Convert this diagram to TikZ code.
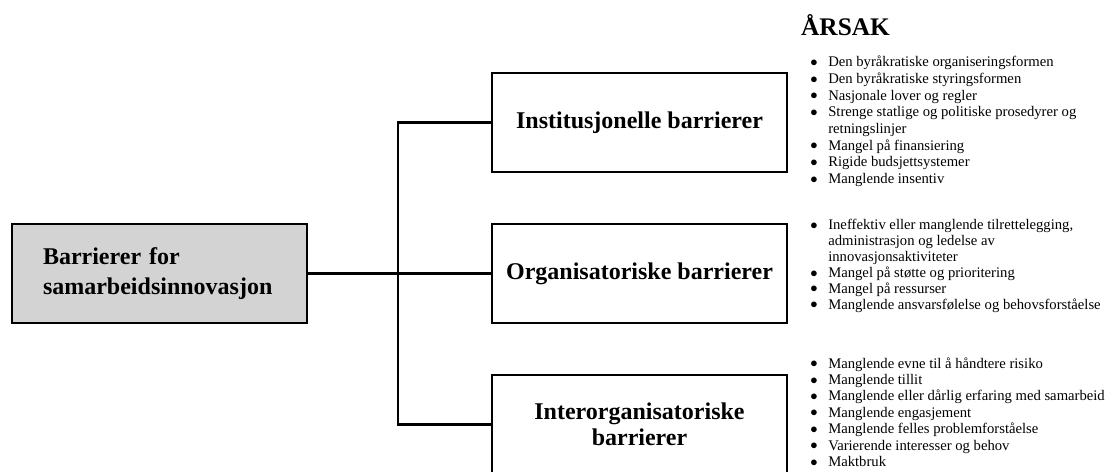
\documentclass[tikz,border=0pt]{standalone}
\usepackage{fontspec}
\setmainfont{Liberation Serif}
\usetikzlibrary{positioning}
\definecolor{rootgray}{RGB}{211,211,211}
\newcommand{\cause}[1]{\makebox[13.5pt][l]{\raisebox{0.3pt}{$\bullet$}}#1}
\newcommand{\causecont}[1]{\hspace*{13.5pt}#1}

\begin{document}
\begin{tikzpicture}[
            x=0.75pt, y=-0.75pt,
            rootbox/.style={draw, line width=1.1pt, outer sep=0pt, fill=rootgray, minimum height=74.25pt,
                text width=174.75pt, inner xsep=23.25pt, align=left,
                font=\fontsize{18}{22.5}\selectfont\bfseries},
            barrierbox/.style={draw, line width=1.1pt, outer sep=0pt, minimum width=221.25pt, minimum height=74.25pt,
                inner sep=0pt, align=center, font=\fontsize{18}{19.5}\selectfont\bfseries},
            causelist/.style={inner sep=0pt, anchor=west, align=left, font=\fontsize{11}{#1}\selectfont},
            causelist/.default=12.5,
            link/.style={line width=1.6pt}
        ]
        \useasboundingbox (0,0) rectangle (1113,471);

        \node[barrierbox] (inst) at (639.5,122.5) {Institusjonelle barrierer};
        \node[barrierbox, below=39pt of inst] (org) {Organisatoriske barrierer};
        \node[barrierbox, below=39pt of org] (inter) {Interorganisatoriske\\barrierer};
        \node[rootbox, anchor=east] (root) at (307,273.5) {Barrierer for\\samarbeidsinnovasjon};
        \coordinate (fork) at (398,273.5);

        \draw[link] (root.east) -- (org.west);
        \draw[link] (inst.west) -| (fork) |- (inter.west);

        % causes
        \node[inner sep=0pt, font=\fontsize{19}{22}\selectfont\bfseries] (head) at (845.5,25) {ÅRSAK};
        \node[causelist] (instcause) at (810,121.5) {\cause{Den byråkratiske organiseringsformen}\\
            \cause{Den byråkratiske styringsformen}\\
            \cause{Nasjonale lover og regler}\\
            \cause{Strenge statlige og politiske prosedyrer og}\\
            \causecont{retningslinjer}\\
            \cause{Mangel på finansiering}\\
            \cause{Rigide budsjettsystemer}\\
            \cause{Manglende insentiv}};
        \node[causelist=11.9] (orgcause) at (810,266) {\cause{Ineffektiv eller manglende tilrettelegging,}\\
            \causecont{administrasjon og ledelse av}\\
            \causecont{innovasjonsaktiviteter}\\
            \cause{Mangel på støtte og prioritering}\\
            \cause{Mangel på ressurser}\\
            \cause{Manglende ansvarsfølelse og behovsforståelse}};
        \node[causelist=12.3] (intercause) at (810,412) {\cause{Manglende evne til å håndtere risiko}\\
            \cause{Manglende tillit}\\
            \cause{Manglende eller dårlig erfaring med samarbeid}\\
            \cause{Manglende engasjement}\\
            \cause{Manglende felles problemforståelse}\\
            \cause{Varierende interesser og behov}\\
            \cause{Maktbruk}};
    \end{tikzpicture}
\end{document}
